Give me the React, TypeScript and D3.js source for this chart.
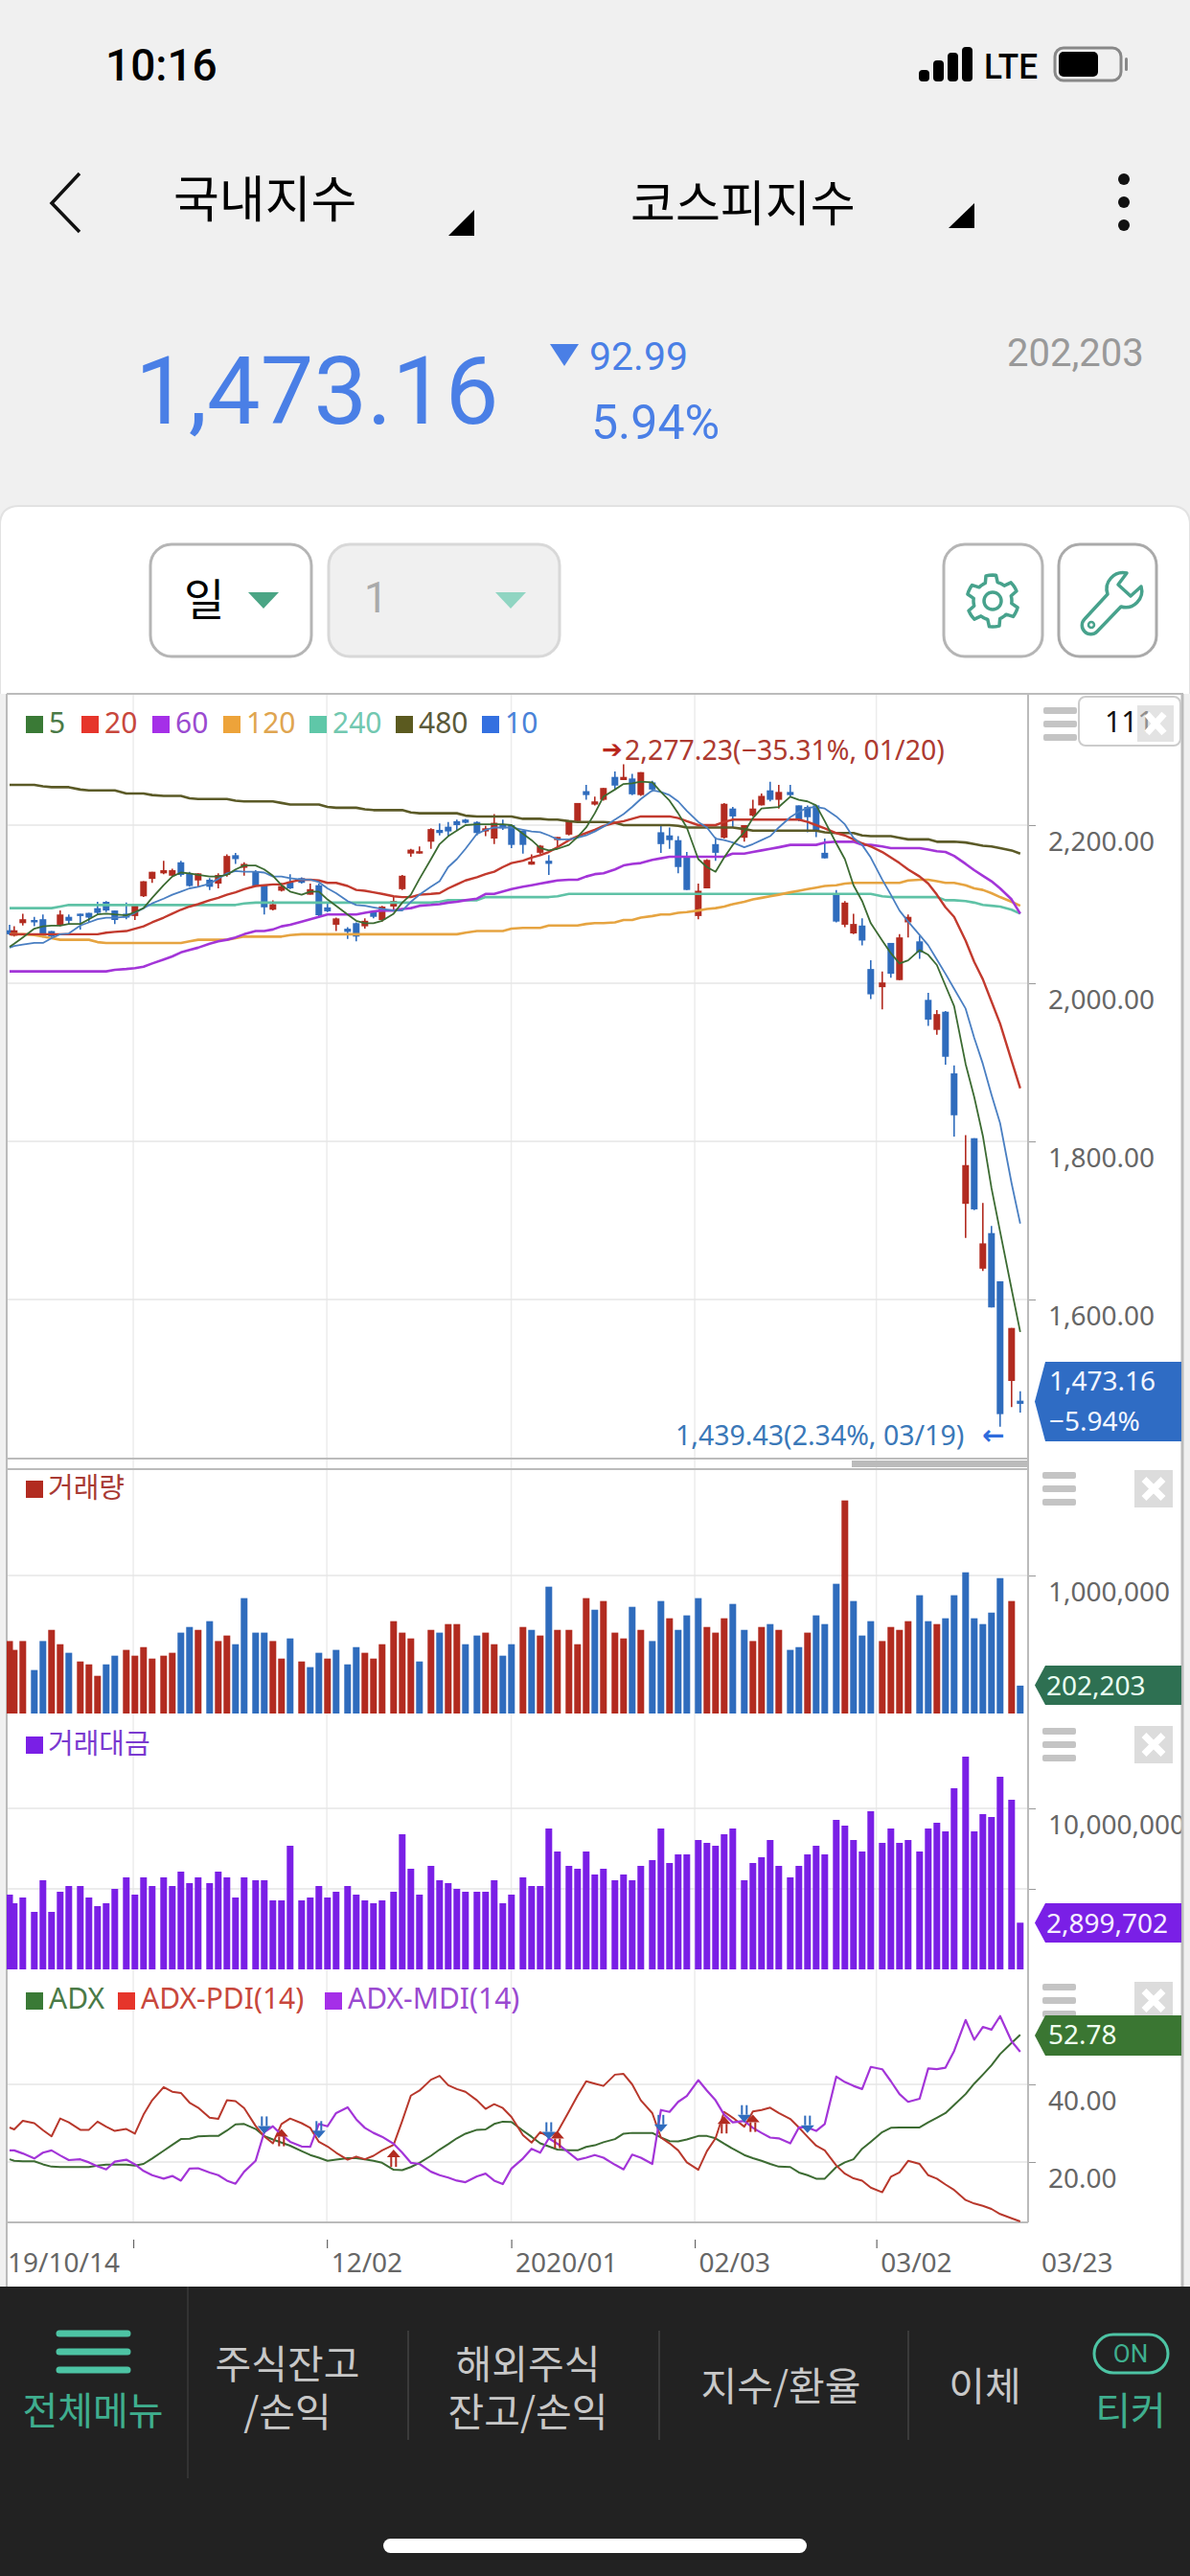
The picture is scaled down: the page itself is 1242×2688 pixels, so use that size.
import { useEffect, useRef } from 'react'
import * as d3 from 'd3'

// 일봉 데이터 (111개)
const highs = [
  2074, 2072, 2088, 2084, 2087, 2066, 2092, 2087, 2088, 2089,
  2103, 2104, 2092, 2102, 2099, 2129, 2141, 2155, 2145, 2155,
  2141, 2139, 2133, 2139, 2163, 2165, 2153, 2143, 2124, 2105,
  2127, 2138, 2134, 2126, 2126, 2102, 2083, 2071, 2077, 2082,
  2092, 2098, 2109, 2137, 2170, 2173, 2196, 2202, 2204, 2207,
  2208, 2205, 2199, 2214, 2207, 2201, 2193, 2163, 2175, 2162,
  2185, 2205, 2228, 2251, 2236, 2247, 2268, 2277, 2265, 2267,
  2256, 2199, 2197, 2186, 2166, 2126, 2157, 2185, 2228, 2223,
  2200, 2232, 2240, 2255, 2251, 2251, 2225, 2225, 2225, 2183,
  2118, 2104, 2088, 2082, 2029, 2015, 2051, 2062, 2087, 2060,
  1988, 1966, 1965, 1896, 1808, 1804, 1722, 1693, 1623, 1564, 1484,
]
const opens = [
  2067, 2060, 2076, 2080, 2081, 2066, 2074, 2084, 2088, 2089,
  2095, 2103, 2092, 2088, 2085, 2110, 2132, 2139, 2136, 2153,
  2139, 2130, 2131, 2126, 2137, 2162, 2146, 2141, 2124, 2093,
  2117, 2128, 2133, 2112, 2124, 2096, 2074, 2069, 2076, 2072,
  2091, 2080, 2097, 2119, 2164, 2164, 2179, 2194, 2198, 2205,
  2207, 2204, 2192, 2183, 2200, 2200, 2193, 2150, 2165, 2155,
  2181, 2188, 2205, 2243, 2226, 2232, 2261, 2257, 2259, 2238,
  2254, 2191, 2187, 2181, 2160, 2085, 2120, 2176, 2184, 2221,
  2184, 2212, 2225, 2244, 2232, 2242, 2225, 2223, 2225, 2165,
  2112, 2074, 2063, 2073, 2018, 1995, 2051, 2004, 2077, 2053,
  1979, 1941, 1964, 1886, 1721, 1804, 1639, 1684, 1623, 1497, 1472,
]
const closes = [
  2062, 2067, 2081, 2077, 2060, 2059, 2087, 2079, 2085, 2083,
  2089, 2092, 2080, 2083, 2099, 2129, 2141, 2143, 2143, 2137,
  2123, 2139, 2122, 2137, 2161, 2157, 2151, 2123, 2096, 2100,
  2123, 2120, 2127, 2119, 2086, 2091, 2082, 2065, 2059, 2079,
  2084, 2097, 2104, 2136, 2169, 2167, 2195, 2190, 2192, 2200,
  2203, 2190, 2196, 2203, 2196, 2175, 2175, 2154, 2174, 2151,
  2185, 2205, 2228, 2238, 2230, 2247, 2250, 2261, 2239, 2267,
  2245, 2176, 2181, 2147, 2118, 2117, 2156, 2165, 2227, 2211,
  2200, 2221, 2237, 2232, 2242, 2238, 2207, 2210, 2193, 2158,
  2078, 2102, 2075, 2054, 1986, 2001, 2012, 2058, 2084, 2039,
  1954, 1961, 1907, 1833, 1770, 1714, 1671, 1590, 1455, 1564, 1468,
]
const lows = [
  2061, 2059, 2073, 2072, 2058, 2057, 2072, 2075, 2068, 2077,
  2086, 2090, 2075, 2081, 2080, 2109, 2127, 2138, 2135, 2135,
  2122, 2122, 2118, 2120, 2135, 2151, 2136, 2122, 2087, 2092,
  2116, 2119, 2126, 2112, 2083, 2090, 2066, 2056, 2053, 2069,
  2082, 2078, 2092, 2118, 2160, 2164, 2170, 2187, 2186, 2194,
  2202, 2187, 2186, 2176, 2194, 2171, 2164, 2150, 2163, 2137,
  2173, 2187, 2204, 2232, 2225, 2231, 2246, 2257, 2238, 2237,
  2242, 2165, 2170, 2139, 2118, 2081, 2120, 2155, 2183, 2197,
  2179, 2211, 2225, 2230, 2221, 2236, 2205, 2191, 2185, 2158,
  2077, 2071, 2062, 2048, 1980, 1967, 2007, 2004, 2058, 2031,
  1946, 1935, 1897, 1806, 1678, 1713, 1636, 1590, 1439, 1464, 1457,
]

// 이동평균선
const ma5 = [
  2046, 2050, 2058, 2069, 2072, 2073, 2073, 2075, 2075, 2081,
  2087, 2088, 2087, 2086, 2090, 2095, 2108, 2124, 2135, 2140,
  2139, 2137, 2135, 2135, 2137, 2144, 2149, 2149, 2144, 2136,
  2124, 2116, 2112, 2116, 2116, 2106, 2098, 2087, 2079, 2076,
  2076, 2079, 2088, 2102, 2112, 2132, 2157, 2176, 2186, 2193,
  2200, 2201, 2201, 2201, 2201, 2200, 2189, 2181, 2171, 2168,
  2170, 2175, 2185, 2197, 2215, 2236, 2245, 2252, 2253, 2255,
  2254, 2242, 2231, 2215, 2197, 2157, 2147, 2141, 2159, 2175,
  2191, 2209, 2221, 2222, 2223, 2236, 2232, 2230, 2225, 2205,
  2177, 2157, 2124, 2104, 2076, 2054, 2038, 2025, 2029, 2042,
  2036, 2023, 1997, 1971, 1898, 1856, 1807, 1741, 1686, 1613, 1559,
]
const ma10 = [
  2045, 2047, 2049, 2051, 2051, 2057, 2062, 2063, 2073, 2077,
  2081, 2083, 2083, 2084, 2089, 2095, 2101, 2107, 2112, 2116,
  2120, 2122, 2126, 2132, 2139, 2142, 2141, 2141, 2140, 2135,
  2135, 2133, 2131, 2131, 2128, 2120, 2114, 2104, 2099, 2098,
  2096, 2094, 2092, 2092, 2103, 2112, 2122, 2129, 2147, 2157,
  2170, 2189, 2194, 2197, 2197, 2197, 2194, 2192, 2191, 2187,
  2182, 2182, 2184, 2187, 2192, 2198, 2207, 2214, 2223, 2233,
  2244, 2242, 2238, 2230, 2218, 2204, 2197, 2183, 2181, 2178,
  2172, 2176, 2181, 2186, 2197, 2210, 2217, 2222, 2223, 2221,
  2211, 2201, 2184, 2175, 2159, 2131, 2112, 2092, 2078, 2061,
  2048, 2030, 2012, 1993, 1968, 1931, 1898, 1859, 1823, 1747, 1696,
]
const ma20 = [
  2062, 2062, 2062, 2062, 2062, 2062, 2062, 2062, 2062, 2062,
  2062, 2064, 2065, 2066, 2069, 2072, 2077, 2083, 2088, 2093,
  2097, 2100, 2105, 2108, 2112, 2115, 2119, 2123, 2124, 2125,
  2125, 2128, 2131, 2131, 2130, 2127, 2127, 2123, 2118, 2117,
  2115, 2113, 2110, 2109, 2109, 2112, 2113, 2114, 2120, 2125,
  2130, 2134, 2138, 2141, 2147, 2152, 2155, 2159, 2162, 2166,
  2172, 2181, 2186, 2190, 2194, 2199, 2203, 2205, 2208, 2211,
  2211, 2211, 2211, 2209, 2205, 2200, 2200, 2200, 2204, 2207,
  2207, 2207, 2207, 2207, 2207, 2207, 2207, 2204, 2200, 2196,
  2190, 2187, 2182, 2177, 2173, 2166, 2159, 2152, 2144, 2135,
  2126, 2112, 2096, 2084, 2054, 2027, 2005, 1977, 1949, 1902, 1867,
]
const ma60 = [
  2015, 2015, 2015, 2015, 2015, 2015, 2015, 2015, 2015, 2015,
  2015, 2015, 2017, 2018, 2019, 2021, 2025, 2030, 2034, 2039,
  2042, 2045, 2050, 2053, 2055, 2058, 2062, 2066, 2066, 2068,
  2072, 2074, 2078, 2081, 2084, 2087, 2087, 2087, 2087, 2089,
  2091, 2092, 2092, 2094, 2095, 2098, 2099, 2100, 2102, 2103,
  2105, 2107, 2113, 2113, 2116, 2119, 2122, 2124, 2126, 2128,
  2130, 2131, 2131, 2135, 2138, 2139, 2144, 2149, 2151, 2152,
  2156, 2158, 2160, 2160, 2160, 2160, 2160, 2160, 2160, 2164,
  2164, 2166, 2168, 2170, 2172, 2175, 2175, 2175, 2175, 2178,
  2179, 2179, 2179, 2175, 2175, 2173, 2171, 2171, 2171, 2171,
  2169, 2167, 2166, 2161, 2151, 2143, 2136, 2129, 2120, 2106, 2088,
]
const ma120 = [
  2062, 2062, 2062, 2061, 2059, 2057, 2055, 2055, 2055, 2055,
  2052, 2051, 2051, 2051, 2051, 2051, 2051, 2051, 2051, 2051,
  2053, 2055, 2055, 2055, 2055, 2057, 2059, 2059, 2059, 2059,
  2059, 2061, 2062, 2062, 2062, 2062, 2062, 2062, 2062, 2062,
  2062, 2062, 2062, 2062, 2062, 2062, 2062, 2062, 2062, 2062,
  2064, 2066, 2066, 2066, 2066, 2069, 2070, 2070, 2070, 2073,
  2073, 2073, 2073, 2075, 2076, 2076, 2077, 2080, 2080, 2083,
  2085, 2087, 2087, 2089, 2090, 2092, 2094, 2095, 2097, 2100,
  2103, 2106, 2108, 2110, 2112, 2115, 2117, 2119, 2121, 2123,
  2124, 2126, 2127, 2127, 2127, 2127, 2127, 2127, 2130, 2131,
  2131, 2129, 2127, 2127, 2124, 2120, 2118, 2114, 2109, 2103, 2098,
]
const ma240 = [
  2095, 2095, 2095, 2095, 2095, 2095, 2097, 2099, 2099, 2099,
  2099, 2099, 2099, 2099, 2099, 2099, 2099, 2099, 2099, 2099,
  2099, 2099, 2099, 2099, 2099, 2099, 2101, 2102, 2102, 2102,
  2102, 2102, 2102, 2102, 2102, 2102, 2102, 2102, 2102, 2102,
  2102, 2102, 2102, 2102, 2102, 2102, 2102, 2103, 2105, 2105,
  2105, 2105, 2109, 2109, 2109, 2109, 2109, 2109, 2109, 2109,
  2110, 2113, 2113, 2113, 2113, 2113, 2113, 2113, 2113, 2113,
  2113, 2113, 2113, 2113, 2113, 2113, 2113, 2113, 2113, 2113,
  2113, 2113, 2113, 2113, 2113, 2113, 2113, 2113, 2113, 2113,
  2113, 2113, 2113, 2113, 2113, 2110, 2109, 2109, 2109, 2109,
  2109, 2109, 2105, 2105, 2104, 2102, 2099, 2098, 2097, 2093, 2088,
]
const ma480 = [
  2251, 2251, 2251, 2251, 2249, 2248, 2248, 2248, 2245, 2244,
  2244, 2244, 2244, 2240, 2240, 2240, 2238, 2237, 2237, 2237,
  2234, 2233, 2233, 2233, 2233, 2231, 2230, 2230, 2230, 2230,
  2228, 2226, 2226, 2226, 2226, 2223, 2222, 2222, 2222, 2220,
  2219, 2219, 2219, 2219, 2216, 2215, 2215, 2215, 2215, 2215,
  2212, 2211, 2211, 2211, 2211, 2211, 2208, 2208, 2208, 2207,
  2207, 2205, 2204, 2204, 2204, 2204, 2203, 2200, 2200, 2200,
  2200, 2200, 2200, 2199, 2197, 2197, 2197, 2197, 2197, 2197,
  2195, 2193, 2193, 2193, 2193, 2193, 2193, 2193, 2193, 2191,
  2190, 2190, 2190, 2187, 2186, 2186, 2186, 2184, 2182, 2182,
  2182, 2179, 2179, 2179, 2178, 2176, 2174, 2173, 2171, 2168, 2164,
]

// 거래량 (천주), 거래대금 (백만원 x 1000)
const volumes = [
  525, 461, 525, 315, 525, 606, 502, 440, 377, 356,
  273, 356, 419, 461, 419, 481, 398, 419, 440, 586,
  627, 606, 669, 525, 565, 502, 836, 586, 586, 525,
  398, 544, 377, 336, 440, 398, 461, 356, 481, 440,
  398, 502, 669, 586, 544, 377, 606, 586, 648, 648,
  502, 565, 586, 502, 419, 502, 627, 606, 565, 919,
  606, 606, 502, 836, 752, 815, 586, 544, 773, 606,
  525, 815, 690, 606, 711, 836, 627, 586, 690, 794,
  606, 525, 627, 648, 606, 461, 481, 586, 711, 648,
  940, 1544, 815, 565, 669, 525, 627, 606, 669, 857,
  669, 648, 690, 857, 1023, 690, 648, 731, 981, 815, 202,
]
const volumeDirection = (
  'rrrbbrrbrr' + 'rbbrrrrrrb' + 'brbrrbbbbr' + 'rbrbbrbbbr' + 'rrrrrbrbrr' + 'bbrrbbrbrb' +
  'rrrrbrrrbr' + 'bbrbbbrrrb' + 'brrbrbbrbb' + 'brbbbrrrrb' + 'brbbbbbbbrb'
).split('')
const amounts = [
  4643, 4107, 4464, 3571, 5535, 3571, 4821, 5178, 5178, 4464,
  3928, 4107, 5000, 5714, 4643, 5714, 5178, 5714, 5178, 6071,
  5357, 5714, 5357, 6071, 5714, 4464, 5714, 5535, 5535, 4285,
  4285, 7678, 4285, 4464, 5178, 4464, 4821, 5178, 4643, 4285,
  4107, 4285, 4821, 8392, 6250, 4643, 6428, 5535, 5357, 5000,
  4821, 4821, 4821, 5535, 4107, 4643, 5714, 5178, 5178, 8750,
  7321, 6428, 6250, 7321, 5893, 6250, 5535, 5893, 5535, 6428,
  6785, 8750, 6607, 7142, 7142, 8035, 7857, 7678, 8392, 8750,
  5535, 6607, 6964, 8035, 6428, 5714, 6428, 7142, 7678, 7142,
  9285, 8928, 8035, 7321, 9821, 7857, 8750, 7857, 8035, 7321,
  8750, 9107, 8571, 11250, 13214, 8571, 9642, 9464, 11964, 10535, 2900,
]

// ADX
const adx = [
  20.7, 20.3, 20.2, 20.2, 19.4, 18.8, 18.7, 18.7, 18.7, 18.7,
  19.1, 19.3, 19.3, 19.3, 19.1, 19.5, 20.9, 22.9, 24.4, 25.9,
  26.0, 26.6, 26.7, 26.7, 28.1, 29.7, 29.8, 28.5, 26.7, 25.8,
  25.0, 24.2, 22.8, 21.8, 21.1, 20.3, 20.6, 21.0, 21.0, 20.7,
  20.3, 19.8, 18.0, 17.9, 18.7, 19.8, 21.6, 23.2, 24.6, 26.1,
  27.3, 28.3, 28.4, 29.8, 30.4, 30.3, 28.1, 26.5, 24.8, 24.0,
  23.2, 23.0, 23.0, 23.9, 24.3, 25.1, 25.9, 27.3, 27.5, 27.5,
  27.5, 26.3, 25.4, 25.3, 25.8, 26.7, 26.7, 26.1, 24.7, 23.4,
  21.8, 21.0, 20.3, 19.5, 18.8, 18.7, 17.3, 16.6, 15.7, 15.7,
  18.7, 19.9, 20.7, 23.4, 25.2, 27.7, 28.8, 28.9, 28.9, 28.9,
  30.2, 31.4, 32.6, 34.7, 37.5, 40.2, 42.5, 44.9, 47.8, 50.7, 52.78,
]
const pdi = [
  28.9, 28.4, 30.6, 30.0, 28.2, 26.6, 31.2, 30.2, 28.3, 28.3,
  30.4, 29.1, 28.0, 28.5, 27.3, 32.2, 35.9, 39.3, 38.1, 37.8,
  35.3, 34.0, 31.4, 31.1, 35.9, 35.7, 33.9, 29.3, 26.6, 24.8,
  29.8, 31.2, 30.0, 28.8, 25.2, 24.0, 22.4, 20.6, 21.4, 20.7,
  21.6, 23.0, 24.4, 30.6, 37.1, 38.4, 41.2, 42.2, 39.8, 38.8,
  38.1, 35.9, 33.7, 34.9, 33.9, 31.6, 26.9, 25.0, 27.7, 26.5,
  27.7, 33.0, 37.1, 40.8, 40.2, 39.6, 42.5, 42.7, 40.0, 35.9,
  32.6, 26.3, 24.8, 23.0, 19.9, 18.0, 22.8, 26.1, 32.9, 31.4,
  29.1, 33.0, 33.4, 34.0, 32.6, 31.1, 28.9, 26.5, 24.2, 23.0,
  19.1, 17.0, 15.8, 15.2, 13.4, 12.2, 16.2, 17.3, 20.3, 19.5,
  16.6, 15.7, 14.2, 12.8, 10.2, 9.3, 8.7, 7.9, 6.6, 5.5, 4.7,
]
const mdi = [
  23.0, 23.0, 22.2, 20.9, 22.4, 23.0, 21.7, 20.5, 20.7, 19.9,
  18.9, 18.1, 20.1, 20.6, 19.4, 17.7, 16.6, 15.7, 16.4, 15.2,
  18.3, 18.4, 17.3, 16.6, 15.2, 14.4, 17.5, 20.3, 27.7, 29.2,
  27.0, 25.2, 24.0, 23.9, 29.8, 29.2, 32.6, 34.1, 31.0, 28.8,
  27.5, 26.5, 24.7, 22.4, 19.8, 19.5, 17.5, 16.6, 16.0, 15.2,
  14.8, 16.3, 17.0, 15.2, 14.3, 18.3, 20.9, 23.4, 22.4, 26.1,
  24.7, 22.4, 20.6, 21.1, 21.8, 21.1, 19.3, 18.1, 21.9, 21.1,
  19.5, 33.4, 32.9, 35.5, 37.0, 41.1, 38.4, 35.9, 32.2, 30.2,
  30.6, 28.8, 27.5, 26.3, 26.1, 24.8, 28.9, 28.9, 28.0, 29.8,
  42.0, 40.6, 39.6, 38.8, 44.5, 43.9, 40.8, 37.5, 35.5, 36.3,
  44.1, 43.9, 44.3, 48.6, 56.6, 51.5, 54.8, 54.1, 57.6, 51.1, 48.4,
]
// 매수/매도 신호 (봉 번호, 화살표 끝 값)
const buySignalIdx = [30, 42, 60, 78, 81]
const buySignalVal = [28.5, 23.2, 28.0, 31.8, 32.2]
const sellSignalIdx = [28, 34, 59, 71, 80, 87]
const sellSignalVal = [27.3, 26.1, 25.8, 27.7, 30.2, 27.5]

const priceTicks = [2200, 2000, 1800, 1600]
const volumeTicks = [1000000]
const amountTicks = [5000000, 10000000]
const adxTicks = [20, 40]
const dateSlots = [13.7, 34.7, 54.7, 74.6, 94.3]
const dateLabels = ['', '12/02', '2020/01', '02/03', '03/02']

const maLegend = ['5', '20', '60', '120', '240', '480', '10']
const adxLegend = ['ADX', 'ADX-PDI(14)', 'ADX-MDI(14)']

const RED = '#b22b20'
const BLUE = '#2f6cbd'
const PURPLE = '#7a1fe6'
const KR = "'Noto Sans CJK KR', 'Noto Sans', sans-serif"
const NUM = "'Noto Sans', 'Open Sans', sans-serif"

type Sel = d3.Selection<any, any, any, any>

function label(g: Sel, str: string, x: number, y: number, size: number, fill: string, opts: { anchor?: string; font?: string; weight?: number } = {}) {
  return g
    .append('text')
    .attr('x', x)
    .attr('y', y)
    .attr('dominant-baseline', 'central')
    .attr('text-anchor', opts.anchor || 'start')
    .style('font-family', opts.font || KR)
    .style('font-weight', opts.weight || 400)
    .style('font-size', `${size}px`)
    .style('fill', fill)
    .text(str)
}

// 두 줄 메뉴 (한 text 안에 tspan)
function label2(g: Sel, lines: string[], x: number, y: number, gap: number, size: number, fill: string) {
  const t = g
    .append('text')
    .attr('text-anchor', 'middle')
    .style('font-family', KR)
    .style('font-size', `${size}px`)
    .style('fill', fill)
  lines.forEach((line, i) => {
    t.append('tspan').attr('x', x).attr('y', y + i * gap).attr('dominant-baseline', 'central').text(line)
  })
  return t
}

function box(g: Sel, x: number, y: number, w: number, h: number, fill: string, rx = 0) {
  return g.append('rect').attr('x', x).attr('y', y).attr('width', w).attr('height', h).attr('fill', fill).attr('rx', rx)
}

function poly(g: Sel, pts: [number, number][], fill: string) {
  return g.append('path').attr('d', d3.line()(pts) + 'Z').attr('fill', fill)
}

function drawHeader(svg: Sel) {
  box(svg, 0, 0, 1242, 2688, '#f0f0f0')

  // 상태바
  label(svg, '10:16', 110, 68, 46, '#000', { font: 'Roboto', weight: 500 })
  const bars = [12, 22, 30, 36]
  bars.forEach((h, i) => box(svg, 959 + i * 15, 85 - h, 11, h, '#000', 4))
  label(svg, 'LTE', 1027, 69, 37, '#000', { font: 'Roboto', weight: 500 }).attr('textLength', 56).attr('lengthAdjust', 'spacingAndGlyphs')
  svg.append('rect').attr('x', 1101).attr('y', 50).attr('width', 69).attr('height', 34).attr('rx', 9).attr('fill', 'none').attr('stroke', '#888').attr('stroke-width', 3)
  box(svg, 1105, 54, 41, 26, '#000', 5)
  box(svg, 1174, 60, 3, 14, '#888', 1.5)

  // 상단 메뉴
  svg.append('path').attr('d', 'M83 181 L54 212 L83 242').attr('fill', 'none').attr('stroke', '#111').attr('stroke-width', 3.5)
  label(svg, '국내지수', 181, 204, 52, '#000')
  label(svg, '코스피지수', 658, 209, 51, '#000')
  poly(svg, [[495, 219], [495, 246], [468, 246]], '#000')
  poly(svg, [[1017, 212], [1017, 238], [990, 238]], '#000')
  ;[187, 211, 235].forEach(y => svg.append('circle').attr('cx', 1173).attr('cy', y).attr('r', 6).attr('fill', '#111'))

  // 현재가
  label(svg, '1,473.16', 141, 408, 99, '#4a7fe6', { font: 'Roboto' })
  poly(svg, [[574, 359], [604, 359], [589, 382]], '#4a7fe6')
  label(svg, '92.99', 615, 372, 41, '#4a7fe6', { font: 'Roboto' })
  label(svg, '5.94%', 617, 441, 50, '#4a7fe6', { font: 'Roboto' })
  label(svg, '202,203', 1051, 368, 40, '#999', { font: 'Roboto' })

  // 카드
  svg.append('path').attr('d', 'M0 2400 V548 Q0 528 20 528 H1222 Q1242 528 1242 548 V2400 Z').attr('fill', '#fff').attr('stroke', '#e2e2e2').attr('stroke-width', 2)

  // 버튼
  const btn = (x: number, w: number, fill: string, stroke: string) =>
    svg.append('rect').attr('x', x).attr('y', 568).attr('width', w).attr('height', 117).attr('rx', 22).attr('fill', fill).attr('stroke', stroke).attr('stroke-width', 3)
  btn(157, 168, '#fff', '#b5b5b5')
  label(svg, '일', 192, 622, 46, '#000')
  poly(svg, [[259, 618], [291, 618], [275, 635]], '#4aa585')
  btn(343, 241, '#f0f0f0', '#d8d8d8')
  label(svg, '1', 380, 624, 44, '#aaa', { font: 'Roboto' })
  poly(svg, [[517, 618], [549, 618], [533, 635]], '#90d5c2')
  btn(985, 103, '#fff', '#b5b5b5')
  btn(1105, 102, '#fff', '#aaa')

  // 톱니바퀴
  const teeth = d3.range(48).map(i => {
    const a = (i / 48) * Math.PI * 2
    const r = (i + 2) % 8 < 4 ? 27 : 20
    return [1036 + r * Math.sin(a), 627 - r * Math.cos(a)] as [number, number]
  })
  svg.append('path').attr('d', d3.line()(teeth) + 'Z').attr('fill', 'none').attr('stroke', '#47a28c').attr('stroke-width', 3.5).attr('stroke-linejoin', 'round')
  svg.append('circle').attr('cx', 1036).attr('cy', 627).attr('r', 9).attr('fill', 'none').attr('stroke', '#47a28c').attr('stroke-width', 3.5)
  // 렌치
  svg.append('path')
    .attr('d', 'M1176 598 a17 17 0 0 0 -20 22 L1132 646 a9 9 0 1 0 13 13 L1170 633 a17 17 0 0 0 21 -21 L1180 622 L1167 610 Z')
    .attr('fill', 'none').attr('stroke', '#47a28c').attr('stroke-width', 3.5).attr('stroke-linejoin', 'round')
  svg.append('circle').attr('cx', 1139).attr('cy', 652).attr('r', 3).attr('fill', 'none').attr('stroke', '#47a28c').attr('stroke-width', 2.5)
}

function drawFooter(svg: Sel) {
  box(svg, 0, 2386, 1242, 302, '#222')
  const teal = '#4dc4a4'
  const tealText = '#3fae8e'
  const grey = '#c8c8c8'
  ;[2435, 2454, 2473].forEach(y =>
    svg.append('line').attr('x1', 62).attr('x2', 133).attr('y1', y).attr('y2', y).attr('stroke', teal).attr('stroke-width', 7).attr('stroke-linecap', 'round'))
  label(svg, '전체메뉴', 97, 2513, 40, tealText, { anchor: 'middle' })
  svg.append('line').attr('x1', 196).attr('x2', 196).attr('y1', 2386).attr('y2', 2586).attr('stroke', '#333').attr('stroke-width', 2)
  ;[426, 688, 948].forEach(x =>
    svg.append('line').attr('x1', x).attr('x2', x).attr('y1', 2432).attr('y2', 2546).attr('stroke', '#3a3a3a').attr('stroke-width', 2))
  label2(svg, ['주식잔고', '/손익'], 300, 2464, 50, 41, grey)
  label2(svg, ['해외주식', '잔고/손익'], 551, 2464, 50, 41, grey)
  label(svg, '지수/환율', 815, 2487, 41, grey, { anchor: 'middle' })
  label(svg, '이체', 1028, 2487, 41, grey, { anchor: 'middle' })
  svg.append('rect').attr('x', 1142).attr('y', 2436).attr('width', 77).attr('height', 40).attr('rx', 20).attr('fill', 'none').attr('stroke', teal).attr('stroke-width', 3)
  label(svg, 'ON', 1180, 2456, 26, tealText, { anchor: 'middle', font: 'Roboto' })
  label(svg, '티커', 1180, 2513, 40, tealText, { anchor: 'middle' })
  box(svg, 400, 2649, 442, 15, '#fff', 7.5)
}

export default function App() {
  const svgRef = useRef<SVGSVGElement>(null)

  useEffect(() => {
    if (!svgRef.current) return
    const svg = d3.select(svgRef.current)
    svg.selectAll('*').remove()

    const left = 7
    const axisX = 1073
    const panelTop = 724
    const panelBottom = 2319

    drawHeader(svg)
    // 차트 좌우 여백
    box(svg, 0, panelTop, 6, 1662, '#f0f0f0')
    box(svg, 1235, panelTop, 7, 1662, '#f0f0f0')

    // x 스케일: 봉 간격은 3px 단위로 떨어진다
    const slot = d3.scaleLinear().domain([0, 110]).range([0.48, 0.48 + 110 * 3.2075])
    const xAt = (i: number) => (i === 0 ? 10 : 5.8 + 3 * Math.floor(slot(i)))
    const xGrid = (i: number) => 5.8 + 3 * slot(i)
    const idx = d3.range(closes.length)

    const yPrice = d3.scaleLinear().domain([2200, 1600]).range([861, 1356])
    const yVolume = d3.scaleLinear().domain([0, 1000000]).range([1788, 1644])
    const yAmount = d3.scaleLinear().domain([0, 10000000]).range([2055, 1887])
    const yAdx = d3.scaleLinear().domain([20, 40]).range([2256, 2175])

    const defs = svg.append('defs')
    defs.append('clipPath').attr('id', 'plot').append('rect').attr('x', left).attr('y', panelTop).attr('width', axisX - left).attr('height', panelBottom - panelTop)
    // 축 그룹이 translate 되어 있으므로 로컬 좌표
    defs.append('clipPath').attr('id', 'side').append('rect').attr('x', 0).attr('y', panelTop).attr('width', 1233 - axisX).attr('height', panelBottom - panelTop)

    // 세로 격자
    const gridG = svg.append('g')
    dateSlots.forEach(s => {
      gridG.append('line').attr('x1', xGrid(s)).attr('x2', xGrid(s)).attr('y1', panelTop).attr('y2', panelBottom).attr('stroke', '#ececec').attr('stroke-width', 1.5)
    })

    // y축 (오른쪽)
    const rightAxis = (scale: any, ticks: number[], format: (d: any) => string, dy: number) => {
      const g = svg.append('g').attr('transform', `translate(${axisX},0)`).attr('clip-path', 'url(#side)')
      g.call(d3.axisRight(scale).tickValues(ticks).tickSize(8).tickPadding(21).tickFormat(format))
      g.select('.domain').remove()
      g.selectAll('line').attr('stroke', '#999').attr('stroke-width', 1)
      g.selectAll('text')
        .attr('dy', 0)
        .attr('x', 21)
        .attr('y', dy)
        .attr('dominant-baseline', 'central')
        .style('font-family', NUM)
        .style('font-size', '28px')
        .style('fill', '#666')
      return g
    }
    const hLines = (scale: any, ticks: number[]) => {
      ticks.forEach(t => {
        gridG.append('line').attr('x1', left).attr('x2', axisX).attr('y1', scale(t)).attr('y2', scale(t)).attr('stroke', '#e6e6e6').attr('stroke-width', 1.5)
      })
    }
    hLines(yPrice, priceTicks)
    hLines(yVolume, volumeTicks)
    hLines(yAmount, amountTicks)
    hLines(yAdx, adxTicks)
    rightAxis(yPrice, priceTicks, d3.format(',.2f'), 15)
    rightAxis(yVolume, volumeTicks, d3.format(','), 15)
    rightAxis(yAmount, amountTicks, d => (d === 10000000 ? '10,000,000.' : ''), 15)
    rightAxis(yAdx, adxTicks, d3.format('.2f'), 15)

    // 테두리
    const frame = svg.append('g').attr('stroke', '#bbb').attr('stroke-width', 2)
    frame.append('line').attr('x1', left).attr('x2', 1235).attr('y1', panelTop).attr('y2', panelTop)
    frame.append('line').attr('x1', left).attr('x2', left).attr('y1', panelTop).attr('y2', 2386)
    frame.append('line').attr('x1', axisX).attr('x2', axisX).attr('y1', panelTop).attr('y2', panelBottom)
    frame.append('line').attr('x1', left).attr('x2', axisX).attr('y1', 1522).attr('y2', 1522)
    frame.append('line').attr('x1', left).attr('x2', axisX).attr('y1', 1533).attr('y2', 1533)
    frame.append('line').attr('x1', left).attr('x2', axisX).attr('y1', panelBottom).attr('y2', panelBottom)
    frame.append('line').attr('x1', 1234).attr('x2', 1234).attr('y1', panelTop).attr('y2', 2386).attr('stroke-width', 3)
    box(svg, 889, 1524, 184, 7, '#bbb')

    const plot = svg.append('g').attr('clip-path', 'url(#plot)')

    // 캔들
    const candles = plot.selectAll('.candle').data(idx).enter().append('g').attr('class', 'candle')
    const candleColor = (i: number) => (closes[i] >= opens[i] ? RED : BLUE)
    candles.append('line')
      .attr('x1', i => xAt(i))
      .attr('x2', i => xAt(i))
      .attr('y1', i => yPrice(highs[i]))
      .attr('y2', i => yPrice(lows[i]))
      .attr('stroke', candleColor)
      .attr('stroke-width', 1.6)
    candles.append('rect')
      .attr('x', i => xAt(i) - 3.5)
      .attr('width', 7)
      .attr('y', i => yPrice(Math.max(opens[i], closes[i])))
      .attr('height', i => Math.abs(yPrice(opens[i]) - yPrice(closes[i])))
      .attr('fill', candleColor)

    // 이동평균선
    const maLine = d3.line<number>().x((_, i) => xAt(i)).y(d => yPrice(d))
    const maSeries: [number[], string, number][] = [
      [ma480, '#5b5a27', 2.6],
      [ma240, '#5fc2a6', 2.6],
      [ma120, '#e6a441', 2.6],
      [ma60, '#a335d8', 2.6],
      [ma20, '#c23a2e', 2.4],
      [ma10, '#4a7fc2', 1.8],
      [ma5, '#3c6b32', 1.8],
    ]
    maSeries.forEach(([values, color, width]) => {
      plot.append('path').attr('d', maLine(values)).attr('fill', 'none').attr('stroke', color).attr('stroke-width', width).attr('stroke-linejoin', 'round')
    })

    // 거래량 / 거래대금
    plot.selectAll('.vol').data(volumes).enter().append('rect')
      .attr('class', 'vol')
      .attr('x', (_, i) => xAt(i) - 3.5)
      .attr('width', 7)
      .attr('y', d => yVolume(d * 1000))
      .attr('height', d => yVolume(0) - yVolume(d * 1000))
      .attr('fill', (_, i) => (volumeDirection[i] === 'r' ? RED : BLUE))
    plot.selectAll('.amt').data(amounts).enter().append('rect')
      .attr('class', 'amt')
      .attr('x', (_, i) => xAt(i) - 3.5)
      .attr('width', 7)
      .attr('y', d => yAmount(d * 1000))
      .attr('height', d => yAmount(0) - yAmount(d * 1000))
      .attr('fill', PURPLE)

    // ADX
    const adxLine = d3.line<number>().x((_, i) => xAt(i)).y(d => yAdx(d))
    const adxSeries: [number[], string, number][] = [
      [adx, '#3c6b32', 2],
      [pdi, '#b8382c', 2],
      [mdi, '#a335d8', 2.2],
    ]
    adxSeries.forEach(([values, color, width]) => {
      plot.append('path').attr('d', adxLine(values)).attr('fill', 'none').attr('stroke', color).attr('stroke-width', width).attr('stroke-linejoin', 'round')
    })
    // 신호 화살표
    buySignalIdx.forEach((s, k) => {
      const x = xAt(s)
      const y = yAdx(buySignalVal[k])
      poly(plot, [[x, y], [x + 7, y + 8], [x - 7, y + 8]], RED)
      box(plot, x - 3.5, y + 8, 2, 10, RED)
      box(plot, x + 1.5, y + 8, 2, 10, RED)
    })
    sellSignalIdx.forEach((s, k) => {
      const x = xAt(s)
      const y = yAdx(sellSignalVal[k])
      poly(plot, [[x, y], [x + 7, y - 8], [x - 7, y - 8]], BLUE)
      box(plot, x - 3.5, y - 18, 2, 10, BLUE)
      box(plot, x + 1.5, y - 18, 2, 10, BLUE)
    })

    // 범례
    const legendColors = ['#3a7a36', '#e6352b', '#a52fe8', '#eda33a', '#5fc7a8', '#5b5a1f', '#3470e0']
    const legendText = ['#4a7a46', '#c8473c', '#9a4ad0', '#dfa550', '#72c8b0', '#5b5a3a', '#4a82d8']
    let lx = 27
    maLegend.forEach((name, i) => {
      box(svg, lx, 747, 18, 18, legendColors[i])
      label(svg, name, lx + 24, 753, 30, legendText[i], { font: NUM })
      lx += 42 + 16 * name.length
    })
    box(svg, 27, 1545, 18, 18, RED)
    label(svg, '거래량', 50, 1550, 29, '#a83a34')
    box(svg, 27, 1812, 18, 18, PURPLE)
    label(svg, '거래대금', 50, 1817, 29, '#7a3ad0')
    const adxSquares = [27, 123, 339]
    const adxSquareColors = ['#3a7a36', '#e6352b', '#a52fe8']
    const adxLegendText = ['#4a7a46', '#c8473c', '#9a4ad0']
    adxLegend.forEach((name, i) => {
      box(svg, adxSquares[i], 2079, 18, 18, adxSquareColors[i])
      label(svg, name, adxSquares[i] + 24, 2084, 30, adxLegendText[i], { font: NUM })
    })

    // 최고/최저 표시
    label(svg, '2,277.23(−35.31%, 01/20)', 652, 782, 28.5, '#ad3a30', { font: NUM })
    label(svg, '➔', 628, 782, 26, '#b8261c', { font: "'DejaVu Sans'" })
    label(svg, '1,439.43(2.34%, 03/19)', 705, 1497, 28.5, '#3a78b8', { font: NUM })
    label(svg, '←', 1025, 1497, 28, '#2f6cdc', { font: "'DejaVu Sans'", weight: 700 })

    // 시간축
    const dateAxis = svg.append('g').attr('transform', 'translate(0,2337)')
      .call(d3.axisBottom(d3.scaleLinear().domain([0, 110]).range([xGrid(0), xGrid(110)])).tickValues(dateSlots).tickSize(9).tickFormat((_, i) => dateLabels[i]))
    dateAxis.select('.domain').remove()
    dateAxis.selectAll('line').attr('stroke', '#666').attr('stroke-width', 1.2)
    dateAxis.selectAll('text')
      .attr('text-anchor', 'start')
      .attr('x', 4)
      .attr('y', 23)
      .attr('dy', 0)
      .attr('dominant-baseline', 'central')
      .style('font-family', NUM)
      .style('font-size', '28px')
      .style('fill', '#666')
    label(svg, '19/10/14', 8, 2360, 28, '#666', { font: NUM })
    label(svg, '03/23', 1087, 2360, 28, '#666', { font: NUM })

    // 우측 버튼
    const panelIcons = (barsY: number, closeY: number, closeH: number) => {
      ;[0, 14, 28].forEach(d => box(svg, 1088, barsY + d, 35, 7, '#c4c4c4', 2))
      const x = 1184
      box(svg, x, closeY, 40, closeH, '#dcdcdc')
      const cy = closeY + closeH / 2
      svg.append('path')
        .attr('d', `M${x + 10} ${cy - 10} L${x + 30} ${cy + 10} M${x + 30} ${cy - 10} L${x + 10} ${cy + 10}`)
        .attr('stroke', '#fff').attr('stroke-width', 7)
    }
    ;[0, 14, 28].forEach(d => box(svg, 1089, 738 + d, 35, 7, '#c4c4c4', 2))
    svg.append('rect').attr('x', 1126).attr('y', 727).attr('width', 106).attr('height', 51).attr('rx', 7).attr('fill', '#fff').attr('stroke', '#ccc').attr('stroke-width', 2)
    label(svg, '111', 1153, 752, 30, '#111', { font: NUM })
    box(svg, 1187, 736, 38, 38, '#d4d4d4').attr('opacity', 0.65)
    svg.append('path').attr('d', 'M1197 745 L1215 765 M1215 745 L1197 765').attr('stroke', '#fff').attr('stroke-width', 7)
    panelIcons(1536, 1534, 39)
    panelIcons(1803, 1801, 39)
    panelIcons(2070, 2068, 39)

    // 현재값 태그
    const tag = (top: number, bottom: number, color: string) => {
      const mid = (top + bottom) / 2
      poly(svg, [[1080, mid], [1091, top], [1233, top], [1233, bottom], [1091, bottom]], color)
    }
    tag(1421, 1504, '#2f6cc4')
    label(svg, '1,473.16', 1095, 1440, 28, '#f2f6ff', { font: NUM })
    label(svg, '−5.94%', 1095, 1482, 28, '#f2f6ff', { font: NUM })
    tag(1738, 1779, '#2e7052')
    label(svg, '202,203', 1092, 1758, 28, '#eafff2', { font: NUM })
    tag(1986, 2027, PURPLE)
    label(svg, '2,899,702', 1092, 2006, 28, '#f6eeff', { font: NUM })
    tag(2103, 2145, '#3a7632')
    label(svg, '52.78', 1094, 2122, 28, '#f0fff0', { font: NUM })

    drawFooter(svg)
  }, [])

  return (
    <svg
      ref={svgRef}
      width={1242}
      height={2688}
      viewBox="0 0 1242 2688"
      style={{ position: 'absolute', left: 0, top: 0, display: 'block' }}
    />
  )
}
